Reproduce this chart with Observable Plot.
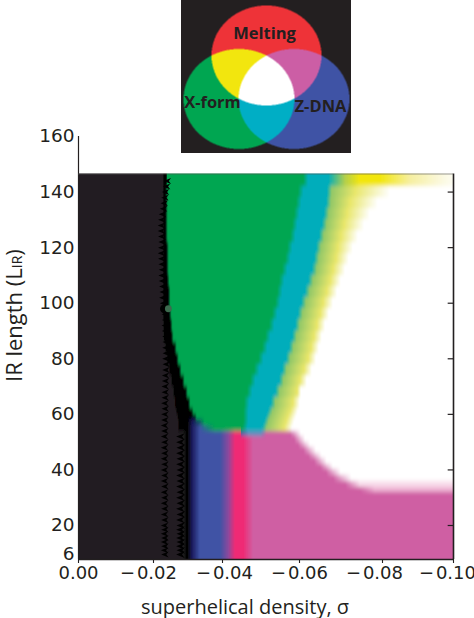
<!DOCTYPE html>
<html><head><meta charset="utf-8">
<script src="https://cdn.jsdelivr.net/npm/d3@7"></script>
<script src="https://cdn.jsdelivr.net/npm/@observablehq/plot@0.6"></script>
<style>html,body{margin:0;padding:0;background:#fff}#wrap{position:relative;width:474px;height:618px;overflow:hidden}#legend{position:absolute;left:181px;top:0;z-index:2}#main svg,#legend svg{display:block}</style>
</head><body><div id="wrap"><div id="main"></div><div id="legend"></div></div>
<script>
// axis calibration as printed in the reference
const xTicks = [0, -0.02, -0.04, -0.06, -0.08, -0.10];
const xTickLabels = ["0.00", "\u2212\u200a0.02", "\u2212\u200a0.04", "\u2212\u200a0.06", "\u2212\u200a0.08", "\u2212\u200a0.10"];
const xLabelDx = [0, -5, 2, 0, -8, -6];
const xPixels = [78, 153, 222, 299, 382, 453];
const yTicks = [160, 140, 120, 100, 80, 60, 40, 20, 6];
const yDomain = [4, 6, 20, 160];
const yPixels = [559, 554, 525, 136];

// palette
const dark = "#231f20", black = "#000000", green = "#00a651", cyan = "#00adbb",
  lime = "#93c868", paleYel = "#e8e66a", white = "#ffffff",
  navy = "#1a1a5c", blue = "#3f53a5", purple = "#8a4a9e", hot = "#ef2a74", pink = "#cf5fa3",
  palePink = "#f8dcea", midPink = "#eeb2d3", yellow = "#f2e60e";

// upper regime: one band per L range (L = lower edge), sigma magnitudes x 1000
const upperL    = [142,138,134,130,126,122,118,114,110,106,102,98,94,90,86,82,78,74,70,66,62,60,58,56,54];
const upperTop  = [146.5,142,138,134,130,126,122,118,114,110,106,102,98,94,90,86,82,78,74,70,66,62,60,58,56];
const blackFrom = [22.8,22.8,22.8,22.8,22.8,22.8,22.8,22.8,22.8,22.8,22.8,22.8,22.8,22.9,23.0,23.5,24.0,24.6,25.2,25.8,26.2,26.6,27.0,27.2,27.2];
const greenFrom = [23.8,23.8,23.8,23.8,23.8,23.8,24.1,24.1,24.1,24.3,24.6,24.6,24.9,25.2,25.5,26.4,27.0,27.8,28.7,29.6,30.4,31.3,32.2,33.6,35.9];
const greenTo   = [61.0,59.7,59.2,58.7,58.2,57.7,56.9,56.4,55.6,54.8,54.3,53.8,53.0,52.2,51.2,50.4,49.4,48.3,47.3,46.5,45.7,45.5,45.5,45.5,45.2];
const cyanTo    = [67.0,66.7,66.5,66.0,65.5,64.8,64.1,63.6,63.1,62.2,61.4,60.5,59.7,59.0,58.2,57.4,56.6,55.6,54.8,53.8,52.7,51.9,51.4,50.9,50.4];
const yellowTo  = [75.0,73.5,72.3,71.6,70.9,70.1,69.4,68.9,68.2,67.5,66.7,65.8,65.1,64.3,63.6,62.9,62.2,61.2,60.2,59.5,58.4,57.7,57.1,56.6,56.1];
const whiteFrom = [87.9,82.3,79.0,77.1,75.7,74.2,73.0,72.0,71.1,70.1,69.2,68.2,67.2,66.3,65.5,64.8,64.1,63.1,61.9,60.5,60.2,59.7,59.2,58.7,58.2];

// top strip (yellow band along the longest repeats)
const topStripL = [142, 150];
const topStripSigma  = [0, 22.8, 23.2, 23.8, 24.2, 61.0, 62.2, 67.0, 71.1, 74.7, 79.5, 87.9, 97.0, 100];
const topStripColors = [dark, dark, black, black, green, green, cyan, cyan, "#b4cf4a", yellow, yellow, "#f6efa0", "#fbf9e0", "#fdfcf0"];

// lower regime: Z-DNA / melting stripes, sigma magnitudes x 1000
const lowerBottoms = [52, 50, 48, 46, 44, 42, 40, 38, 36, 33.7, 32, -2];
const lowerTops    = [54, 52, 50, 48, 46, 44, 42, 40, 38, 36, 33.7, 32];
const pinkTo       = [57.7, 58.7, 59.7, 61.0, 62.2, 63.6, 65.1, 66.5, 68.2, 71.1, 74.7, 100];
const afterPinkTo  = [60.5, 61.5, 62.7, 64.1, 65.5, 66.7, 68.2, 70.1, 72.7, 74.7, 78.3, 100];
const afterPinkColor = [white, white, white, white, white, white, white, white, white, palePink, midPink, pink];
const stripeSigma  = [28.7, 29.9, 31.3, 33.6, 39.4, 41.6, 43.4, 45.5, 48.1];
const stripeColors = [dark, black, navy, blue, blue, purple, hot, hot, pink];

// saw-tooth artefacts along the black/green edge
const toothLA = [144,142,140,138,136,134,132,130,128,126,124,122,120,118,116,114,112,110,108,106,104,102,100,96,94,92,90,88,86,84,82,80,78,76,74,72,70,68,66,64,62,60,58,56,54,52,50,48,46,44,42,40,38,36,34,32,30,28,26,24,22,20,18,16,14,12,10,8,6];
const toothXA = [24.0,23.8,23.5,23.3,23.1,22.9,22.6,22.4,22.3,22.3,22.4,22.5,22.4,22.3,22.4,22.5,22.6,22.5,22.6,22.7,22.8,22.7,22.9,23.4,23.5,23.4,23.5,23.6,23.7,23.6,23.7,23.6,23.7,23.6,23.5,23.5,23.4,23.4,23.4,23.3,23.4,23.3,23.3,23.2,23.3,23.2,23.3,23.2,23.3,23.2,23.3,23.2,23.3,23.2,23.3,23.2,23.3,23.2,23.3,23.2,23.3,23.2,23.3,23.2,23.3,23.2,23.3,23.2,23.3];
const toothLB = [52,50,48,46,44,42,40,38,36,34,32,30,28,26,24,22,20,18,16,14,12,10,8,6];
const toothXB = [27.8,27.8,27.9,27.8,27.9,27.8,27.9,27.8,27.9,27.8,27.9,27.8,27.9,27.8,27.9,27.8,27.9,27.8,27.9,27.8,27.9,27.8,27.9,27.8];
const blobL = [98], blobSigma = [23.2], blobInnerSigma = [24.3];

// Venn legend
const vennNames = ["Melting", "X-form", "Z-DNA"];
const vennCx = [85, 57.5, 112.5], vennCy = [55, 98.5, 98.5], vennRx = [55, 55.5, 55.5], vennRy = [50, 50, 50];
const vennColors = [dark, "#ee3338", green, yellow, blue, "#cc5ea5", "#00aec5", white];
const vennLabelX = [83, 31, 139], vennLabelY = [33, 102, 106];

const tick = "DejaVu Sans", sans = "Open Sans";
const segments = [];
const sig = v => -v / 1000;
function addRow(y1, y2, sigmas, colors) {
  for (let i = 0; i + 1 < sigmas.length; i++) {
    if (sigmas[i + 1] > sigmas[i]) segments.push({y1, y2, x1: sig(sigmas[i]), x2: sig(sigmas[i + 1]), a: colors[i], b: colors[i + 1]});
  }
}
addRow(topStripL[0], topStripL[1], topStripSigma, topStripColors);
upperL.forEach((L, i) => {
  if (i === 0) return;
  addRow(L, upperTop[i],
    [0, blackFrom[i], blackFrom[i] + 0.4, greenFrom[i] - 0.3, greenFrom[i] + 0.5, greenTo[i], greenTo[i] + 1.4, cyanTo[i], cyanTo[i] + 1.2, yellowTo[i], whiteFrom[i], 100],
    [dark, dark, black, black, green, green, cyan, cyan, lime, paleYel, white, white]);
});
lowerBottoms.forEach((L, i) => {
  addRow(L, lowerTops[i],
    [0, ...stripeSigma, pinkTo[i], afterPinkTo[i], 100],
    [dark, ...stripeColors, pink, afterPinkColor[i], afterPinkColor[i]]);
});
// the knee just under the green lobe
addRow(52, 54, [45.0, 47.0, 50.0, 51.5], [blue, "#5c8dc0", "#5c8dc0", pink]);
addRow(54, 56, [29.9, 31.3, 33.6, 35.9, 38.0], [black, navy, blue, "#1a7f7a", green]);
addRow(56, 58, [29.9, 31.5, 33.6, 35.0], [black, navy, "#0a5a60", green]);

const gid = d => `g${d.a.slice(1)}${d.b.slice(1)}`;
const tooth = {draw(c, s) { const r = Math.sqrt(s); c.moveTo(-r, 0); c.lineTo(r, -r * .8); c.lineTo(r * .4, 0); c.lineTo(r, r * .8); c.closePath(); }};

const chart = Plot.plot({
  width: 474, height: 618, marginLeft: 78, marginRight: 21, marginTop: 136, marginBottom: 59,
  style: {background: "transparent", color: dark},
  x: {domain: [xPixels[0], xPixels[5]], range: [xPixels[0], xPixels[5]], transform: d3.scaleLinear(xTicks, xPixels), axis: null},
  y: {domain: [yPixels[0], yPixels[3]], range: [yPixels[0], yPixels[3]], transform: d3.scaleLinear(yDomain, yPixels), axis: null},
  marks: [
    Plot.rect(segments, {x1: "x1", x2: "x2", y1: "y1", y2: "y2", fill: {value: d => `url(#${gid(d)})`, scale: null}, shapeRendering: "crispEdges"}),
    Plot.rect([146.5], {x1: 0, x2: -0.10, y1: d => d, y2: 156, fill: white}),
    Plot.rect([4], {x1: 0, x2: -0.10, y1: d => d, y2: -6, fill: white}),
    Plot.dot(toothLA, {x: (d, i) => sig(toothXA[i]), y: d => d, symbol: tooth, r: 2.1, fill: black}),
    Plot.dot(toothLB, {x: (d, i) => sig(toothXB[i]), y: d => d, symbol: tooth, r: 2.4, fill: black}),
    Plot.dot(blobL, {x: (d, i) => sig(blobSigma[i]), y: d => d, r: 4.5, fill: black}),
    Plot.dot(blobL, {x: (d, i) => sig(blobInnerSigma[i]), y: d => d, r: 3.4, fill: "#3d6b4f"}),
    Plot.ruleX([0], {y1: 4, y2: 160, stroke: dark, strokeWidth: 1.2}),
    Plot.ruleX([-0.10], {y1: 4, y2: 146.5, stroke: dark, strokeWidth: 1.6}),
    Plot.ruleY([4], {x1: 0, x2: -0.10, stroke: dark, strokeWidth: 1.4}),
    Plot.ruleY([146.5], {x1: 0, x2: -0.10, stroke: "#555", strokeWidth: 0.6}),
    Plot.ruleY(yTicks.filter(v => v < 146 && v > 6), {y: d => d, x1: -0.0985, x2: -0.10, stroke: dark, strokeWidth: 1.2}),
    Plot.ruleX(xTicks, {x: d => d, y1: 4, y2: 2.4, stroke: dark, strokeWidth: 1.1}),
    ...xTicks.map((t, i) => Plot.text([xTickLabels[i]], {x: () => t, frameAnchor: "bottom", dx: xLabelDx[i], dy: 14, lineAnchor: "middle", fontSize: 18, fontFamily: tick, fill: dark})),
    Plot.text(yTicks, {y: d => d, text: d => String(d), frameAnchor: "left", textAnchor: "end", dx: -4, fontSize: 18.5, fontFamily: tick, fill: dark}),
    Plot.text(["superhelical density, \u03c3"], {frameAnchor: "bottom", dx: -21, dy: 48, lineAnchor: "middle", fontSize: 20, fontFamily: sans, fill: dark}),
    Plot.text(["IR length (LIR)"], {frameAnchor: "left", rotate: -90, dx: -64, dy: 34, fontSize: 22, fontFamily: sans, fill: dark})
  ]
});

// gradients for the phase-diagram segments
const NS = "http://www.w3.org/2000/svg";
const defs = document.createElementNS(NS, "defs");
const seen = new Set();
segments.forEach(d => {
  const id = gid(d);
  if (seen.has(id)) return;
  seen.add(id);
  const g = document.createElementNS(NS, "linearGradient");
  g.setAttribute("id", id);
  [[0, d.a], [1, d.b]].forEach(([o, c]) => {
    const s = document.createElementNS(NS, "stop");
    s.setAttribute("offset", o); s.setAttribute("stop-color", c); g.appendChild(s);
  });
  defs.appendChild(g);
});
// vertical softening: the reference's rows melt into one another
const blur = document.createElementNS(NS, "filter");
blur.setAttribute("id", "vsoft");
blur.setAttribute("filterUnits", "userSpaceOnUse");
[["x", 0], ["y", 0], ["width", 474], ["height", 618]].forEach(([k, v]) => blur.setAttribute(k, v));
const fe = document.createElementNS(NS, "feGaussianBlur");
fe.setAttribute("stdDeviation", "0 2.2");
blur.appendChild(fe);
defs.appendChild(blur);
chart.insertBefore(defs, chart.firstChild);
chart.querySelector('g[aria-label="rect"]').setAttribute("filter", "url(#vsoft)");

// y title subscript
d3.select(chart).selectAll("text").filter(function () { return this.textContent === "IR length (LIR)"; }).each(function () {
  const t = d3.select(this); const host = this.querySelector("tspan") ? d3.select(this.querySelector("tspan")) : t;
  host.text("IR length (L");
  t.append("tspan").attr("font-size", 14).text("IR");
  t.append("tspan").text(")");
});
document.getElementById("main").appendChild(chart);

const inside = (k, x, y) => ((x - vennCx[k]) / vennRx[k]) ** 2 + ((y - vennCy[k]) / vennRy[k]) ** 2 <= 1;
const legend = Plot.plot({
  width: 170, height: 153, margin: 0,
  style: {background: dark},
  x: {domain: [0, 170], range: [0, 170], axis: null},
  y: {domain: [0, 153], range: [0, 153], axis: null},
  color: {type: "ordinal", domain: d3.range(8), range: vennColors},
  marks: [
    Plot.raster({x1: 0, x2: 170, y1: 0, y2: 153, pixelSize: 0.5,
      fill: (x, y) => (inside(0, x, y) ? 1 : 0) + (inside(1, x, y) ? 2 : 0) + (inside(2, x, y) ? 4 : 0)}),
    Plot.text(vennNames, {x: (d, i) => vennLabelX[i], y: (d, i) => vennLabelY[i], fontSize: 16.5, fontWeight: 700, fontFamily: sans, fill: dark})
  ]
});
document.getElementById("legend").appendChild(legend);
</script>
</body></html>
